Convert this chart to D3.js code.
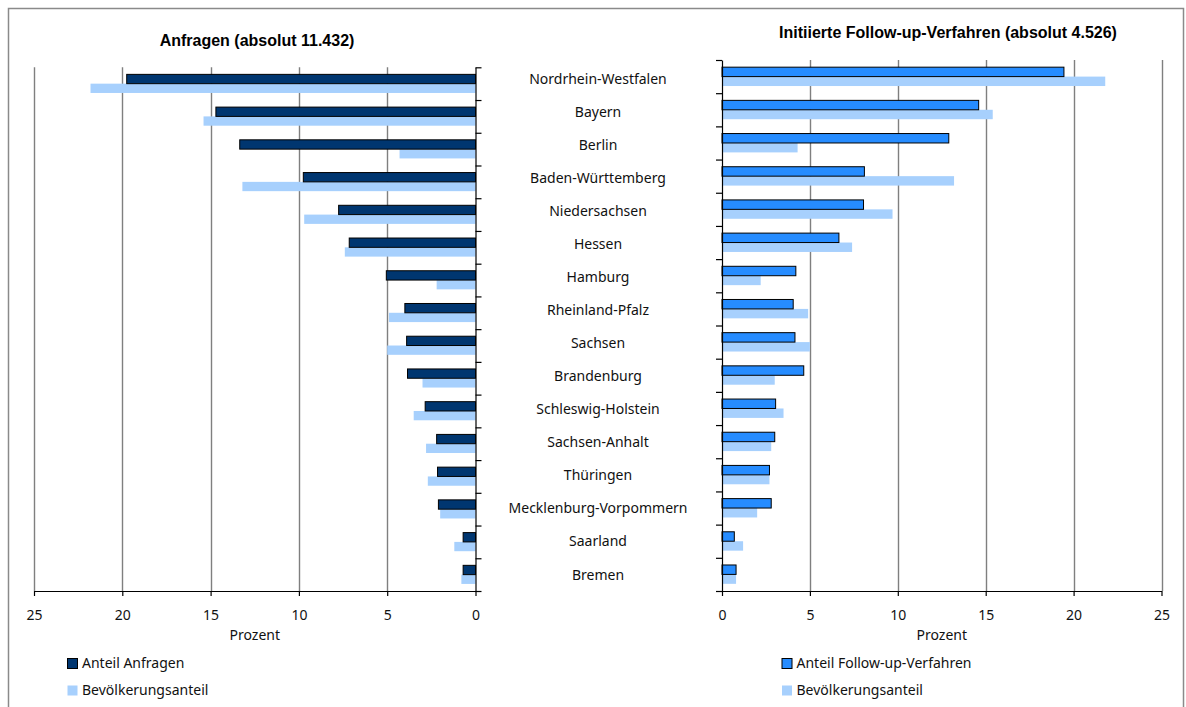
<!DOCTYPE html>
<html>
<head>
<meta charset="utf-8">
<script src="https://cdn.jsdelivr.net/npm/d3@7/dist/d3.min.js"></script>
<style>
  html, body { margin: 0; padding: 0; background: #fff; }
  svg { display: block; }
  .lbl { font-family: "Noto Sans", "DejaVu Sans", sans-serif; font-size: 14px; fill: #111; }
  .ttl { font-family: "Liberation Sans", Arial, sans-serif; font-size: 16px; font-weight: bold; fill: #000; }
</style>
</head>
<body>
<svg id="chart" width="1186" height="707"></svg>
<script>
// Bundesländer, ordered as in the chart (top to bottom)
const states = [
  "Nordrhein-Westfalen", "Bayern", "Berlin", "Baden-Württemberg", "Niedersachsen",
  "Hessen", "Hamburg", "Rheinland-Pfalz", "Sachsen", "Brandenburg",
  "Schleswig-Holstein", "Sachsen-Anhalt", "Thüringen", "Mecklenburg-Vorpommern",
  "Saarland", "Bremen"
];

// Share of all enquiries (%)
const anteilAnfragen = [19.75, 14.7, 13.35, 9.75, 7.75, 7.15, 5.05, 4.0, 3.9, 3.85, 2.85, 2.2, 2.15, 2.1, 0.7, 0.7];

// Share of initiated follow-up procedures (%)
const anteilFollowUp = [19.45, 14.6, 12.9, 8.1, 8.05, 6.65, 4.2, 4.05, 4.15, 4.65, 3.05, 3.0, 2.7, 2.8, 0.7, 0.8];

// Share of population (%)
const bevoelkerungsanteil = [21.8, 15.4, 4.3, 13.2, 9.7, 7.4, 2.2, 4.9, 5.0, 3.0, 3.5, 2.8, 2.7, 2.0, 1.2, 0.8];

const xTicks = [0, 5, 10, 15, 20, 25];

const titles = ["Anfragen (absolut 11.432)", "Initiierte Follow-up-Verfahren (absolut 4.526)"];
const axisTitle = "Prozent";
const legendLeft = ["Anteil Anfragen", "Bevölkerungsanteil"];
const legendRight = ["Anteil Follow-up-Verfahren", "Bevölkerungsanteil"];

const colDark = "#003670";
const colBlue = "#268cff";
const colLight = "#a7d0fd";
const colGrid = "#7f7f7f";

const svg = d3.select("#chart");

// outer frame
svg.append("rect")
  .attr("x", 8.5).attr("y", 8.5).attr("width", 1175).attr("height", 720)
  .attr("fill", "none").attr("stroke", "#8a8a8a").attr("stroke-width", 1.5);

const rowsL = states.map((s, i) => ({ s, a: anteilAnfragen[i], p: bevoelkerungsanteil[i] }));
const rowsR = states.map((s, i) => ({ s, a: anteilFollowUp[i], p: bevoelkerungsanteil[i] }));

function panel(cfg) {
  const { x, yTop, yBottom, rows, mainColor, mirrored } = cfg;
  const g = svg.append("g");
  const y = d3.scaleBand().domain(states).range([yTop, yBottom]);
  const sub = d3.scaleBand().domain(["a", "p"]).range([0, y.bandwidth()])
    .paddingInner(0).paddingOuter(0.76);

  // vertical gridlines
  g.append("g").selectAll("line")
    .data(xTicks.filter(t => t > 0))
    .join("line")
    .attr("x1", d => Math.round(x(d)) + 0.5).attr("x2", d => Math.round(x(d)) + 0.5)
    .attr("y1", yTop).attr("y2", yBottom)
    .attr("stroke", colGrid).attr("stroke-width", 1.4);

  // population bars
  g.append("g").selectAll("rect")
    .data(rows).join("rect")
    .attr("x", d => Math.min(x(0), x(d.p)))
    .attr("width", d => Math.abs(x(d.p) - x(0)))
    .attr("y", d => y(d.s) + sub("p"))
    .attr("height", sub.bandwidth())
    .attr("fill", colLight);

  // main bars
  g.append("g").selectAll("rect")
    .data(rows).join("rect")
    .attr("x", d => Math.min(x(0), x(d.a)))
    .attr("width", d => Math.abs(x(d.a) - x(0)))
    .attr("y", d => y(d.s) + sub("a"))
    .attr("height", sub.bandwidth())
    .attr("fill", mainColor)
    .attr("stroke", "#000").attr("stroke-width", 1);

  // category axis with ticks between categories
  const idx = d3.scaleLinear().domain([0, states.length]).range([yTop, yBottom]);
  const catAxis = (mirrored ? d3.axisRight(idx) : d3.axisLeft(idx))
    .tickValues(d3.range(states.length + 1)).tickFormat("").tickSize(6).tickSizeOuter(0);
  g.append("g")
    .attr("transform", `translate(${x(0)},0)`)
    .call(catAxis)
    .call(s => s.selectAll("line, path").attr("stroke", "#000").attr("stroke-width", 1.2));

  // value axis
  const valAxis = d3.axisBottom(x).tickValues(xTicks).tickSize(5).tickSizeOuter(0).tickPadding(14);
  g.append("g")
    .attr("transform", `translate(0,${yBottom})`)
    .call(valAxis)
    .call(s => s.selectAll("line, path").attr("stroke", "#000").attr("stroke-width", 1.2))
    .call(s => s.selectAll("text")
      .attr("font-family", "'Noto Sans', 'DejaVu Sans', sans-serif")
      .attr("font-size", 14).attr("fill", "#111"));

  const [r0, r1] = x.range();
  g.append("text").attr("class", "lbl")
    .attr("x", (r0 + r1) / 2).attr("y", 640).attr("text-anchor", "middle")
    .text(axisTitle);
  return g;
}

const xL = d3.scaleLinear().domain([0, 25]).range([475.5, 34]);
const xR = d3.scaleLinear().domain([0, 25]).range([722, 1161.5]);

panel({ x: xL, yTop: 67.3, yBottom: 591, rows: rowsL, mainColor: colDark, mirrored: true });
panel({ x: xR, yTop: 60, yBottom: 591, rows: rowsR, mainColor: colBlue, mirrored: false });

// titles
svg.append("text").attr("class", "ttl").attr("x", 257).attr("y", 46)
  .attr("text-anchor", "middle").text(titles[0]);
svg.append("text").attr("class", "ttl").attr("x", 948).attr("y", 38)
  .attr("text-anchor", "middle").text(titles[1]);

// state names between the two panels
const yLab = d3.scaleBand().domain(states).range([62.5, 591]);
svg.append("g").selectAll("text")
  .data(states).join("text")
  .attr("class", "lbl")
  .attr("x", 598)
  .attr("y", d => yLab(d) + yLab.bandwidth() / 2)
  .attr("dy", "0.36em")
  .attr("text-anchor", "middle")
  .text(d => d);

// legends
function legend(x0, labels, colors, strokes) {
  const g = svg.append("g");
  labels.forEach((t, i) => {
    const yy = 658 + i * 27;
    g.append("rect")
      .attr("x", x0 + 0.5).attr("y", yy + 0.5).attr("width", 10).attr("height", 10)
      .attr("fill", colors[i])
      .attr("stroke", strokes[i] ? "#000" : "none").attr("stroke-width", 1);
    g.append("text").attr("class", "lbl")
      .attr("x", x0 + 15).attr("y", yy + 10).text(t);
  });
}
legend(67, legendLeft, [colDark, colLight], [true, false]);
legend(781.5, legendRight, [colBlue, colLight], [true, false]);
</script>
</body>
</html>
